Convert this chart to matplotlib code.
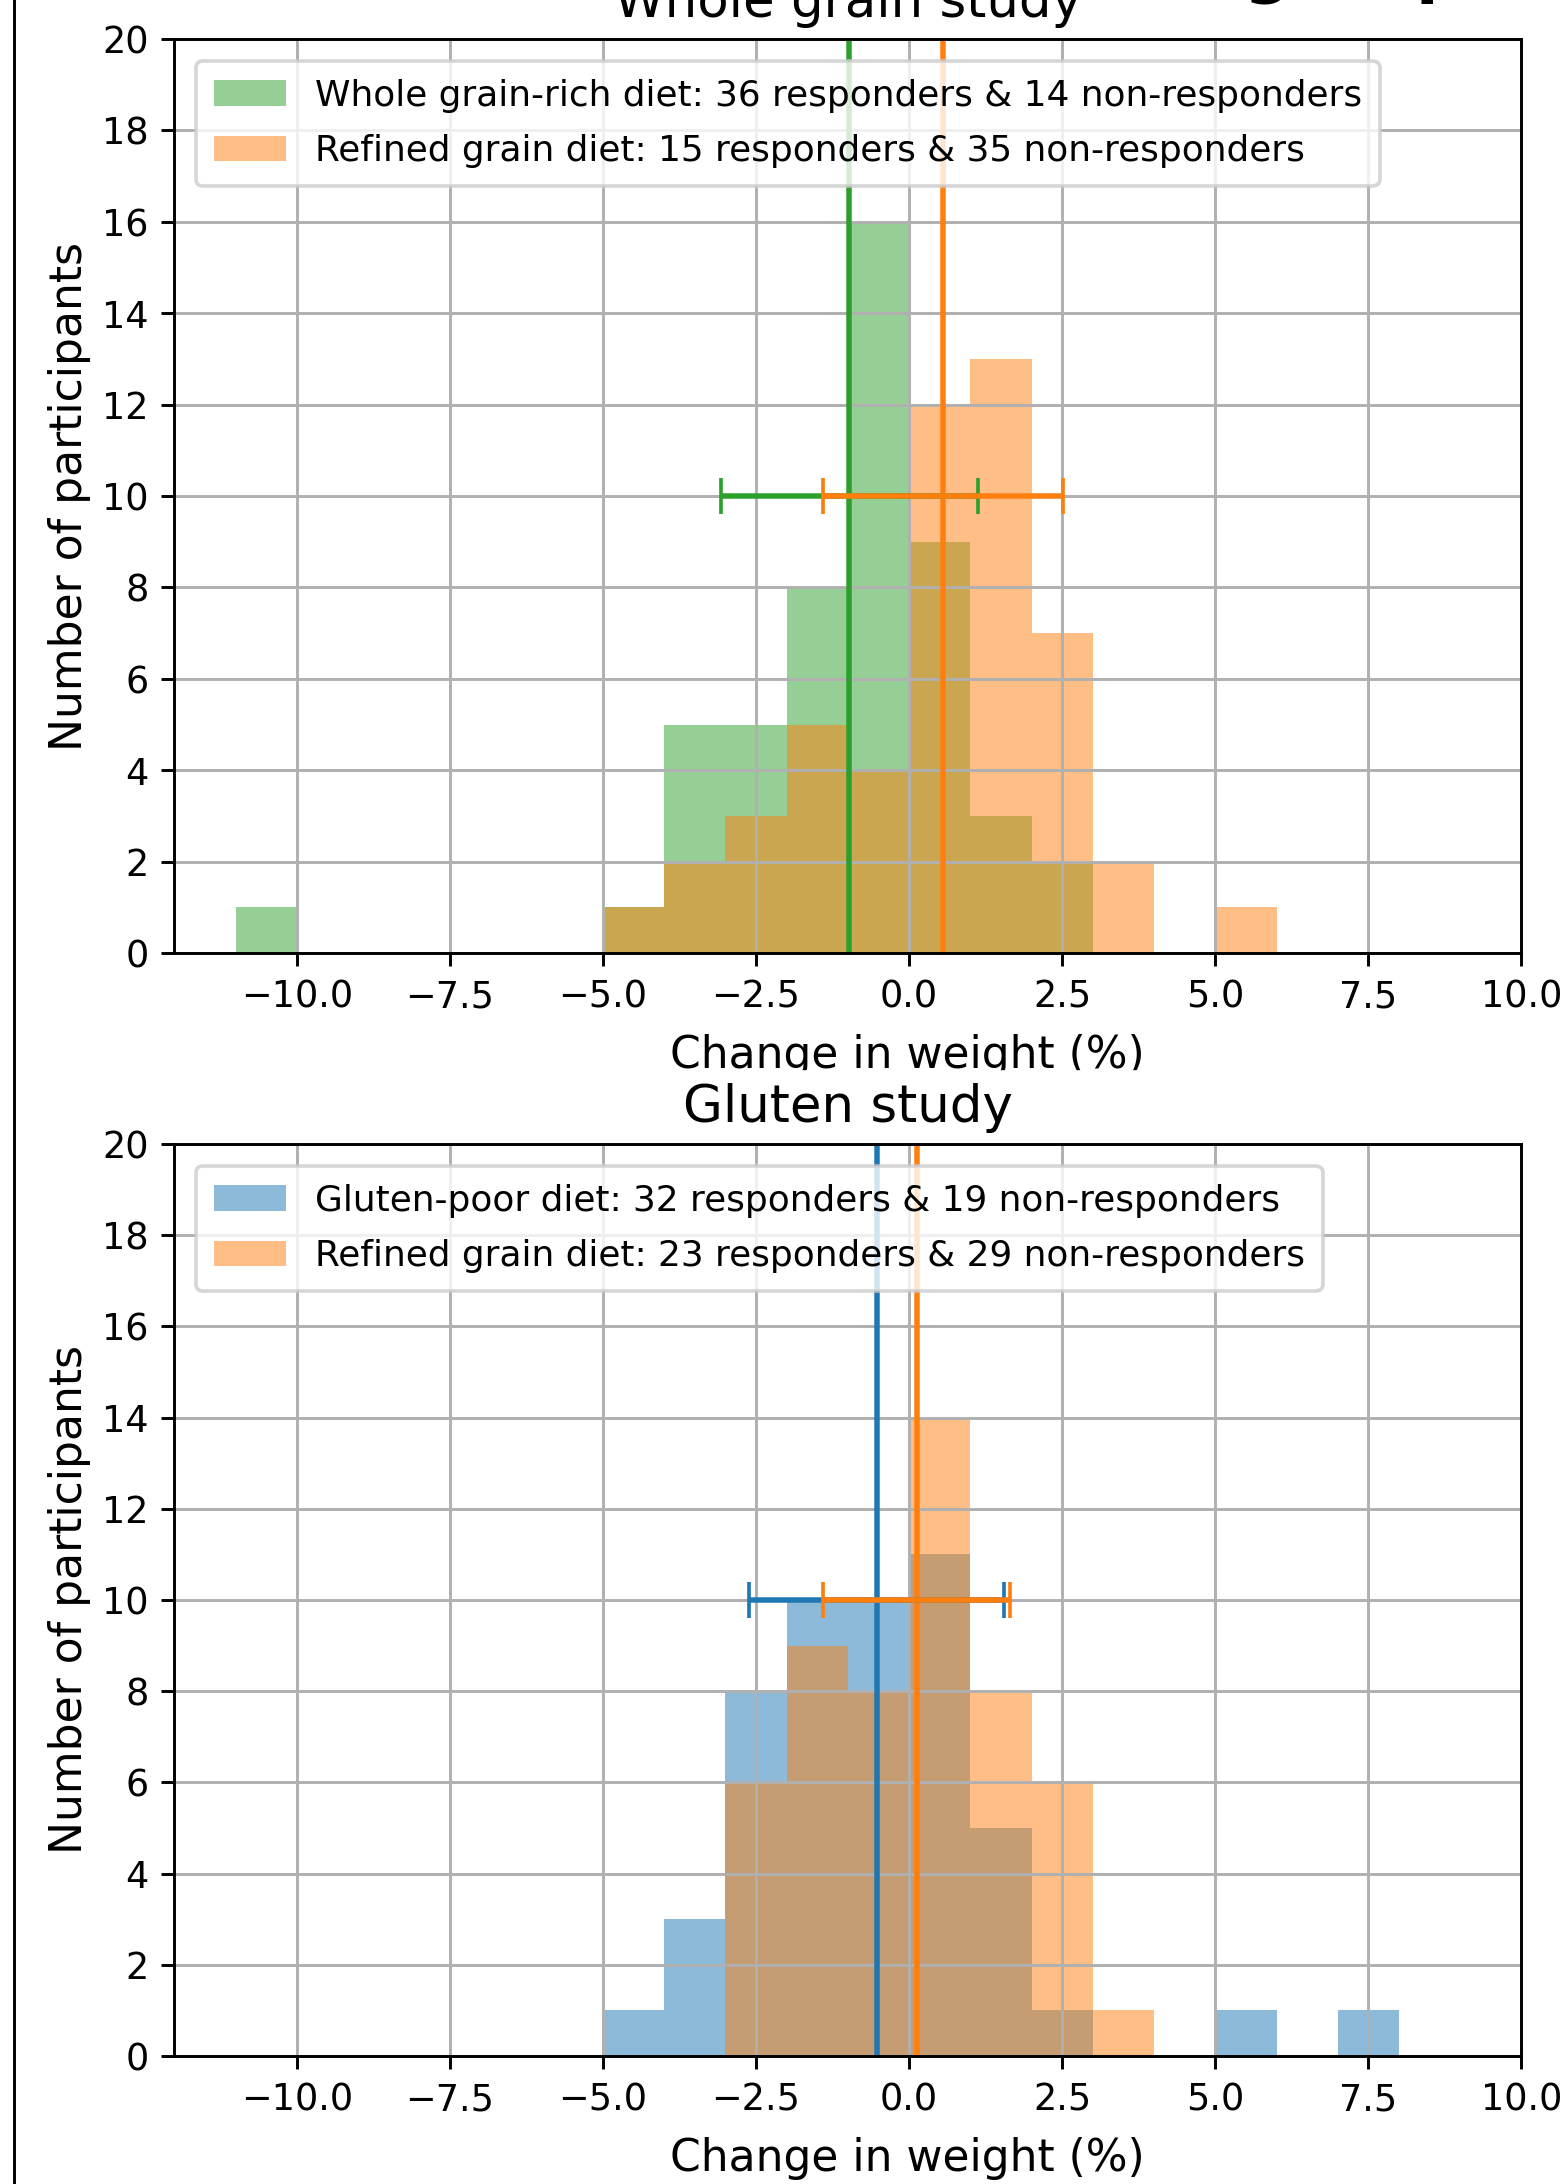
import numpy as np
import matplotlib
matplotlib.use('Agg')
import matplotlib.pyplot as plt
from matplotlib.lines import Line2D
from matplotlib.patches import Rectangle

# bin edges (width 1 %) and counts
bin_edges = np.arange(-12, 10)

wg_counts = [0, 1, 0, 0, 0, 0, 0, 1, 5, 5, 8, 16, 9, 3, 2, 0, 0, 0, 0, 0, 0]
rg1_counts = [0, 0, 0, 0, 0, 0, 0, 1, 2, 3, 5, 4, 12, 13, 7, 2, 0, 1, 0, 0, 0]
gp_counts = [0, 0, 0, 0, 0, 0, 0, 1, 3, 8, 10, 10, 11, 5, 1, 0, 0, 1, 0, 1, 0]
rg2_counts = [0, 0, 0, 0, 0, 0, 0, 0, 0, 6, 9, 8, 14, 8, 6, 1, 0, 0, 0, 0, 0]

# mean and sd of weight change (%)
wg_mean, wg_sd = -0.98, 2.10
rg1_mean, rg1_sd = 0.55, 1.96
gp_mean, gp_sd = -0.53, 2.08
rg2_mean, rg2_sd = 0.12, 1.52

wg_label = 'Whole grain-rich diet: 36 responders & 14 non-responders'
rg1_label = 'Refined grain diet: 15 responders & 35 non-responders'
gp_label = 'Gluten-poor diet: 32 responders & 19 non-responders'
rg2_label = 'Refined grain diet: 23 responders & 29 non-responders'

dpi = 264
fig = plt.figure(figsize=(1563 / dpi, 2184 / dpi), dpi=dpi)
ax1 = fig.add_axes([0.1116, 0.5636, 0.8618, 0.4185])
ax2 = fig.add_axes([0.1116, 0.0586, 0.8618, 0.4176])


def draw(ax, c1, counts1, lab1, m1, s1, counts2, lab2, m2, s2, title):
    centers = bin_edges[:-1] + 0.5
    ax.hist(centers, bins=bin_edges, weights=counts1, alpha=0.5, color=c1, label=lab1)
    ax.hist(centers, bins=bin_edges, weights=counts2, alpha=0.5, color='C1', label=lab2)
    ax.axvline(m1, color=c1)
    ax.axvline(m2, color='C1')
    ax.errorbar(m1, 10, xerr=s1, color=c1, capsize=5)
    ax.errorbar(m2, 10, xerr=s2, color='C1', capsize=5)
    ax.set_xlim(-12, 10)
    ax.set_ylim(0, 20)
    ax.set_yticks(np.arange(0, 21, 2))
    ax.grid(True)
    ax.legend(loc='upper left', fontsize=9.8, labelspacing=0.6,
              borderpad=0.5, borderaxespad=0.6)
    ax.set_xlabel('Change in weight (%)', fontsize=12, x=0.5445, labelpad=5)
    ax.set_ylabel('Number of participants', fontsize=12, labelpad=3)
    ax.set_title(title, fontsize=14)


draw(ax1, 'C2', wg_counts, wg_label, wg_mean, wg_sd,
     rg1_counts, rg1_label, rg1_mean, rg1_sd, 'Whole grain study')
draw(ax2, 'C0', gp_counts, gp_label, gp_mean, gp_sd,
     rg2_counts, rg2_label, rg2_mean, rg2_sd, 'Gluten study')

# frame edge and heading of the surrounding figure (cropped)
fig.add_artist(Line2D([14 / 1563, 14 / 1563], [0, 1], transform=fig.transFigure,
                      color='k', lw=0.8))
fig.text(0.796, 1.005, 'group', fontsize=18, fontweight='bold', ha='left', va='baseline')

# the upper x label is clipped just below its baseline in the source
fig.add_artist(Rectangle((600 / 1563, 1 - 1080 / 2184), 600 / 1563, 8 / 2184,
                         transform=fig.transFigure, color='white', zorder=10))

fig.savefig('out.png', dpi=dpi)
